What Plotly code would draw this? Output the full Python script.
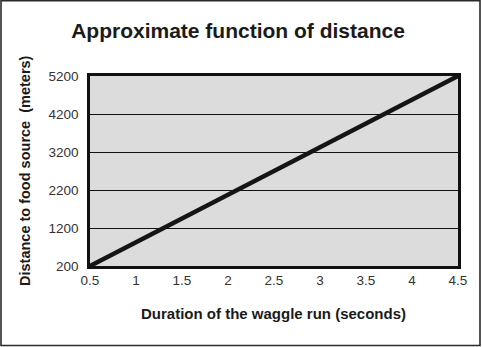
import plotly.graph_objects as go

# Data
duration_s = [0.5, 4.5]
distance_m = [200, 5200]
x_ticks = [0.5, 1, 1.5, 2, 2.5, 3, 3.5, 4, 4.5]
x_ticktext = ["0.5", "1", "1.5", "2", "2.5", "3", "3.5", "4", "4.5"]
y_ticks = [200, 1200, 2200, 3200, 4200, 5200]
y_ticktext = ["200", "1200", "2200", "3200", "4200", "5200"]

W, H = 482, 347
L, R, T, B = 90, 24, 76, 81
pw, ph = W - L - R, H - T - B

def px_to_paper_x(px):
    return (px - L) / pw

def px_to_paper_y(py):
    return (H - B - py) / ph

FONT = "Liberation Sans, Arial, sans-serif"

fig = go.Figure()
fig.add_trace(go.Scatter(
    x=duration_s, y=distance_m, mode="lines",
    line=dict(color="#151515", width=4.5), showlegend=False, hoverinfo="skip",
))

fig.update_layout(
    width=W, height=H,
    margin=dict(l=L, r=R, t=T, b=B),
    paper_bgcolor="white",
    plot_bgcolor="#dcdcdc",
    font=dict(family=FONT, color="#222"),
    title=dict(
        text="<b>Approximate function of distance</b>",
        font=dict(family=FONT, size=21, color="#1a1a1a"),
        x=238 / W, xanchor="center", xref="container",
        y=1 - 31 / H, yanchor="middle", yref="container",
    ),
    xaxis=dict(
        range=[0.5, 4.5], tickvals=x_ticks, ticktext=x_ticktext,
        showgrid=False, zeroline=False,
        showline=True, mirror=True, linecolor="#111", linewidth=2.5,
        ticks="", 
        tickfont=dict(family=FONT, size=13.5, color="#333"),
    ),
    yaxis=dict(
        range=[200, 5200], tickvals=y_ticks, ticktext=y_ticktext,
        showgrid=True, gridcolor="#111", gridwidth=1.2, zeroline=False,
        showline=True, mirror=True, linecolor="#111", linewidth=2.5,
        ticks="outside", ticklen=6, tickcolor="rgba(0,0,0,0)",
        tickfont=dict(family=FONT, size=13.5, color="#333"),
    ),
    annotations=[
        dict(text="<b>Duration of the waggle run (seconds)</b>",
             xref="paper", yref="paper",
             x=px_to_paper_x(273), y=px_to_paper_y(313),
             xanchor="center", yanchor="middle", showarrow=False,
             font=dict(family=FONT, size=15, color="#1a1a1a")),
        dict(text="<b>Distance to food source  (meters)</b>",
             xref="paper", yref="paper",
             x=px_to_paper_x(25), y=px_to_paper_y(171),
             xanchor="center", yanchor="middle", showarrow=False, textangle=-90,
             font=dict(family=FONT, size=14.5, color="#1a1a1a")),
    ],
    shapes=[
        dict(type="rect", xref="paper", yref="paper",
             x0=px_to_paper_x(1), x1=px_to_paper_x(480),
             y0=px_to_paper_y(345.5), y1=px_to_paper_y(0.8),
             line=dict(color="#2a2a2a", width=1.6), fillcolor="rgba(0,0,0,0)",
             layer="above"),
    ],
)

fig.write_html("out.html")
